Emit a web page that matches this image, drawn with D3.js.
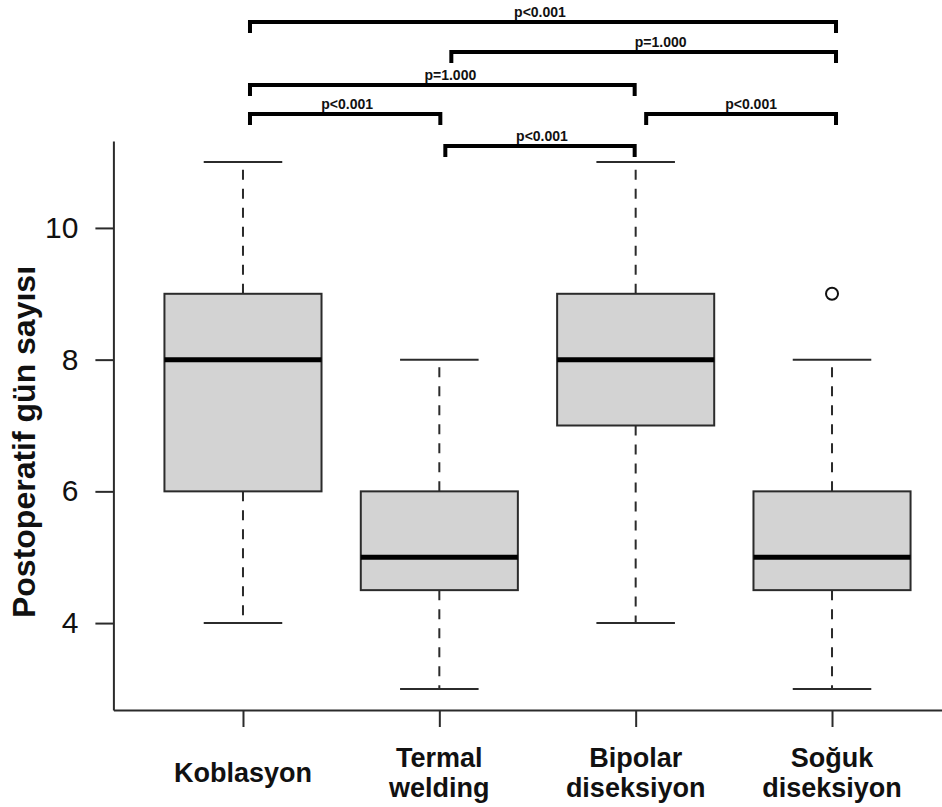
<!DOCTYPE html>
<html>
<head>
<meta charset="utf-8">
<script src="https://cdn.jsdelivr.net/npm/d3@7"></script>
<style>
  body { margin: 0; background: #fff; }
  svg { display: block; font-family: "Liberation Sans", Arial, sans-serif; }
</style>
</head>
<body>
<script>
(function() {

	// --- data ---
	var groups = ['Koblasyon', 'Termal\nwelding', 'Bipolar\ndiseksiyon', 'Soğuk\ndiseksiyon'];
	var whiskerLow = [4, 3, 4, 3];
	var q1 = [6, 4.5, 7, 4.5];
	var median = [8, 5, 8, 5];
	var q3 = [9, 6, 9, 6];
	var whiskerHigh = [11, 8, 11, 8];
	var outliers = [[], [], [], [9]];
	var yTicks = [4, 6, 8, 10];
	var yTitle = 'Postoperatif gün sayısı';

	// pairwise comparisons (group index, 0-based) and their p labels
	var pairs = [[0, 3], [1, 3], [0, 2], [0, 1], [2, 3], [1, 2]];
	var pLabels = ['p<0.001', 'p=1.000', 'p=1.000', 'p<0.001', 'p<0.001', 'p<0.001'];

	// --- layout ---
	var width = 942;
	var height = 807;
	var bracketY = [22, 52, 85, 114, 114, 146];
	var bracketNudge = [[7, 4], [12, 4], [7, -1], [7, 1], [10.5, 4], [6, -1]];
	var labelShift = [-3, 17, 8, 2, 10, 2];
	var legLength = 10;

	var svg = d3.select('body')
		.append('svg')
			.attr('width', width)
			.attr('height', height);

	// R style scales: 4% extension on both axes
	var x = d3.scaleLinear().domain([0.34, 4.66]).range([113.4, 961.6]);
	var y = d3.scaleLinear().domain([2.68, 11.32]).range([710, 141]);

	var step = x(2) - x(1);
	var boxW = step * 0.8;
	var capW = boxW * 0.5;
	var ink = '#2b2b2b';

	// y axis
	var yAxis = d3.axisLeft(y)
		.tickValues(yTicks)
		.tickSize(18)
		.tickSizeOuter(0)
		.tickPadding(17);

	var yg = svg.append('g')
		.attr('transform', 'translate(' + x(0.34) + ',0)')
		.call(yAxis);
	yg.select('.domain').attr('stroke', ink).attr('stroke-width', 2);
	yg.selectAll('.tick line').attr('stroke', ink).attr('stroke-width', 2);
	yg.selectAll('.tick text')
		.attr('font-size', 30)
		.attr('font-family', '"Liberation Sans", Arial, sans-serif')
		.attr('fill', '#111');

	// x axis
	var xAxis = d3.axisBottom(x)
		.tickValues([1, 2, 3, 4])
		.tickSize(17)
		.tickSizeOuter(0)
		.tickFormat('');

	var xg = svg.append('g')
		.attr('transform', 'translate(0,' + y(2.68) + ')')
		.call(xAxis);
	xg.select('.domain').attr('stroke', ink).attr('stroke-width', 2);
	xg.selectAll('.tick line').attr('stroke', ink).attr('stroke-width', 2);

	// group labels (multi-line, vertically centred)
	groups.forEach(function(name, i) {
		var lines = name.split('\n');
		var t = svg.append('text')
			.attr('x', x(i + 1))
			.attr('text-anchor', 'middle')
			.attr('font-size', 27)
			.attr('font-weight', 'bold')
			.attr('fill', '#111');
		lines.forEach(function(line, j) {
			t.append('tspan')
				.attr('x', x(i + 1))
				.attr('y', 782 - (lines.length - 1) * 15 + j * 30)
				.text(line);
		});
	});

	// y title
	svg.append('text')
		.attr('transform', 'translate(35,' + 442 + ') rotate(-90)')
		.attr('text-anchor', 'middle')
		.attr('font-size', 32)
		.attr('font-weight', 'bold')
		.attr('fill', '#111')
		.text(yTitle);

	// boxes
	var boxes = svg.append('g');

	groups.forEach(function(name, i) {
		var cx = x(i + 1);
		var g = boxes.append('g');

		// whiskers
		g.append('line')
			.attr('x1', cx).attr('x2', cx)
			.attr('y1', y(q3[i])).attr('y2', y(whiskerHigh[i]))
			.attr('stroke', ink).attr('stroke-width', 2)
			.attr('stroke-dasharray', '10,9');
		g.append('line')
			.attr('x1', cx).attr('x2', cx)
			.attr('y1', y(q1[i])).attr('y2', y(whiskerLow[i]))
			.attr('stroke', ink).attr('stroke-width', 2)
			.attr('stroke-dasharray', '10,9');

		// staples
		[whiskerLow[i], whiskerHigh[i]].forEach(function(v) {
			g.append('line')
				.attr('x1', cx - capW / 2).attr('x2', cx + capW / 2)
				.attr('y1', y(v)).attr('y2', y(v))
				.attr('stroke', ink).attr('stroke-width', 2);
		});

		// box
		g.append('rect')
			.attr('x', cx - boxW / 2)
			.attr('y', y(q3[i]))
			.attr('width', boxW)
			.attr('height', y(q1[i]) - y(q3[i]))
			.attr('fill', '#d3d3d3')
			.attr('stroke', ink)
			.attr('stroke-width', 2);

		// median
		g.append('line')
			.attr('x1', cx - boxW / 2).attr('x2', cx + boxW / 2)
			.attr('y1', y(median[i])).attr('y2', y(median[i]))
			.attr('stroke', '#000').attr('stroke-width', 5);

		// outliers
		outliers[i].forEach(function(v) {
			g.append('circle')
				.attr('cx', cx)
				.attr('cy', y(v))
				.attr('r', 6)
				.attr('fill', 'none')
				.attr('stroke', '#111')
				.attr('stroke-width', 2);
		});
	});

	// significance brackets
	var br = svg.append('g');
	pairs.forEach(function(p, k) {
		var x1 = x(p[0] + 1) + bracketNudge[k][0];
		var x2 = x(p[1] + 1) + bracketNudge[k][1];
		var yb = bracketY[k];
		br.append('path')
			.attr('d', 'M' + x1 + ',' + (yb + legLength + 1) +
				'L' + x1 + ',' + yb +
				'L' + x2 + ',' + yb +
				'L' + x2 + ',' + (yb + legLength + 1))
			.attr('fill', 'none')
			.attr('stroke', '#000')
			.attr('stroke-width', 4)
			.attr('stroke-linejoin', 'miter');
		br.append('text')
			.attr('x', (x1 + x2) / 2 + labelShift[k])
			.attr('y', yb - 5)
			.attr('text-anchor', 'middle')
			.attr('font-size', 14)
			.attr('font-weight', 'bold')
			.attr('fill', '#111')
			.text(pLabels[k]);
	});

})();
</script>
</body>
</html>
